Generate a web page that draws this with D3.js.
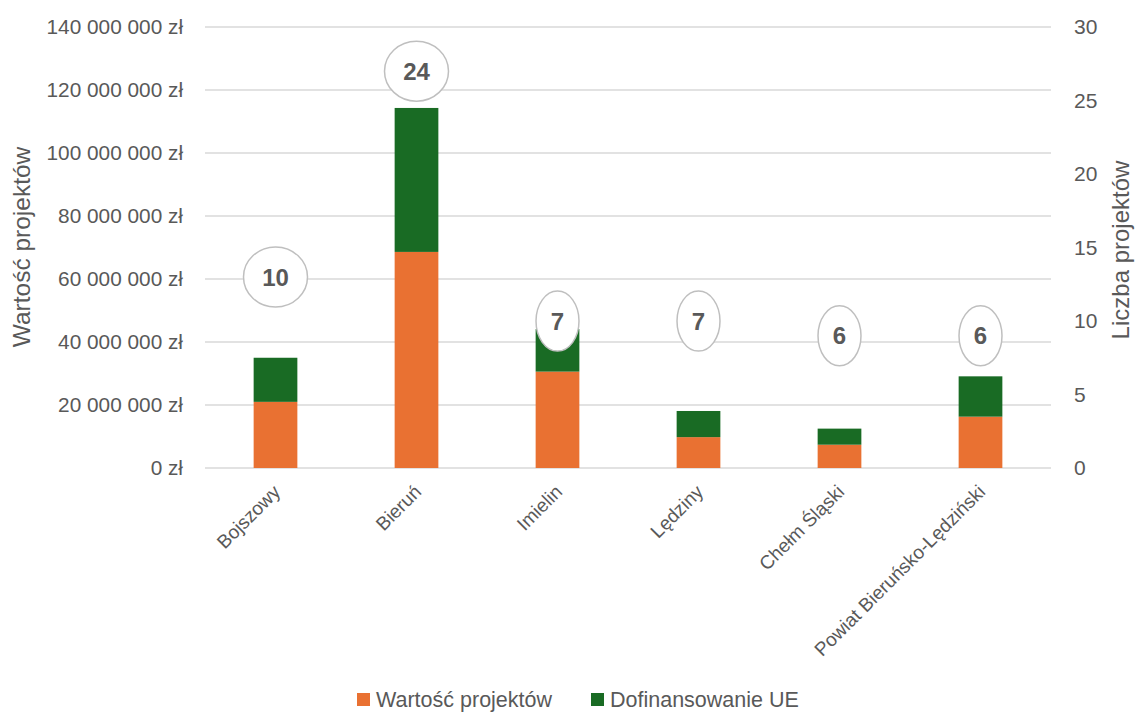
<!DOCTYPE html>
<html>
<head>
<meta charset="utf-8">
<script src="https://cdn.jsdelivr.net/npm/d3@7"></script>
<style>
	body { margin: 0; background: #fff; }
	svg text { font-family: "Liberation Sans", Arial, sans-serif; fill: #595959; }
</style>
</head>
<body>
<svg id="chart"></svg>
<script>
const categories = ['Bojszowy', 'Bieruń', 'Imielin', 'Lędziny', 'Chełm Śląski', 'Powiat Bieruńsko-Lędziński'];
const wartosc = [21000000, 68600000, 30600000, 9800000, 7400000, 16300000];
const dofinansowanie = [14000000, 45700000, 13500000, 8300000, 5100000, 12800000];
const liczba = [10, 24, 7, 7, 6, 6];
const leftTicks = [0, 20000000, 40000000, 60000000, 80000000, 100000000, 120000000, 140000000];
const rightTicks = [0, 5, 10, 15, 20, 25, 30];
const seriesNames = ['Wartość projektów', 'Dofinansowanie UE'];
const colors = ['#e97132', '#196b24'];

const fullWidth = 1135, fullHeight = 715;
const margin = { top: 27, right: 84, bottom: 247, left: 205 };
const width = fullWidth - margin.left - margin.right;
const height = fullHeight - margin.top - margin.bottom;

const svg = d3.select('#chart').attr('width', fullWidth).attr('height', fullHeight);
const g = svg.append('g').attr('transform', `translate(${margin.left},${margin.top})`);

const x = d3.scaleBand().domain(categories).range([0, width]).paddingInner(0.69).paddingOuter(0.345);
const y = d3.scaleLinear().domain([0, 140000000]).range([height, 0]);
const y2 = d3.scaleLinear().domain([0, 30]).range([height, 0]);

const fmt = v => d3.format(',')(v).replace(/,/g, ' ') + ' zł';

// gridlines
g.append('g')
	.selectAll('line')
	.data(leftTicks)
	.join('line')
	.attr('x1', 0).attr('x2', width)
	.attr('y1', d => y(d)).attr('y2', d => y(d))
	.attr('stroke', '#d9d9d9').attr('stroke-width', 1.3);

// left axis
const yAxisG = g.append('g').call(d3.axisLeft(y).tickValues(leftTicks).tickFormat(fmt).tickSize(0).tickPadding(22));
yAxisG.select('.domain').remove();
yAxisG.selectAll('text').style('font-size', '20.8px').attr('fill', '#595959');

// right axis
const y2AxisG = g.append('g').attr('transform', `translate(${width},0)`)
	.call(d3.axisRight(y2).tickValues(rightTicks).tickSize(0).tickPadding(23));
y2AxisG.select('.domain').remove();
y2AxisG.selectAll('text').style('font-size', '21px').attr('fill', '#595959');

// stacked bars
const rows = categories.map((c, i) => ({ cat: c, a: wartosc[i], b: dofinansowanie[i] }));
const stack = d3.stack().keys(['a', 'b'])(rows);
g.selectAll('g.series')
	.data(stack)
	.join('g')
	.attr('class', 'series')
	.attr('fill', (d, i) => colors[i])
	.selectAll('rect')
	.data(d => d)
	.join('rect')
	.attr('x', d => x(d.data.cat))
	.attr('width', x.bandwidth())
	.attr('y', d => y(d[1]))
	.attr('height', d => y(d[0]) - y(d[1]));

// count labels (bubbles)
const labels = g.selectAll('g.count')
	.data(categories.map((c, i) => ({ cat: c, n: liczba[i] })))
	.join('g')
	.attr('class', 'count')
	.attr('transform', d => `translate(${x(d.cat) + x.bandwidth() / 2},${y2(d.n) - 44})`);
labels.append('ellipse')
	.attr('rx', d => String(d.n).length > 1 ? 32 : 21.5)
	.attr('ry', 30)
	.attr('fill', '#fff')
	.attr('stroke', '#bfbfbf')
	.attr('stroke-width', 1.5);
labels.append('text')
	.attr('text-anchor', 'middle')
	.attr('dy', '0.36em')
	.style('font-size', '24px')
	.style('font-weight', 'bold')
	.text(d => d.n);

// x labels
g.append('g')
	.selectAll('text')
	.data(categories)
	.join('text')
	.attr('transform', d => `translate(${x(d) + x.bandwidth() / 2 + 6},${height + 25}) rotate(-45)`)
	.attr('text-anchor', 'end')
	.style('font-size', '19px')
	.text(d => d);

// axis titles
svg.append('text')
	.attr('transform', `translate(30,247) rotate(-90)`)
	.attr('text-anchor', 'middle')
	.style('font-size', '24.5px')
	.text('Wartość projektów');
svg.append('text')
	.attr('transform', `translate(1129,250) rotate(-90)`)
	.attr('text-anchor', 'middle')
	.style('font-size', '24px')
	.text('Liczba projektów');

// legend
const legend = svg.append('g').attr('transform', 'translate(357,693)');
const legendX = [0, 234];
seriesNames.forEach((name, i) => {
	const item = legend.append('g').attr('transform', `translate(${legendX[i]},0)`);
	item.append('rect').attr('width', 13).attr('height', 13).attr('fill', colors[i]);
	item.append('text').attr('x', 19).attr('y', 14).style('font-size', '21.5px').text(name);
});
</script>
</body>
</html>
